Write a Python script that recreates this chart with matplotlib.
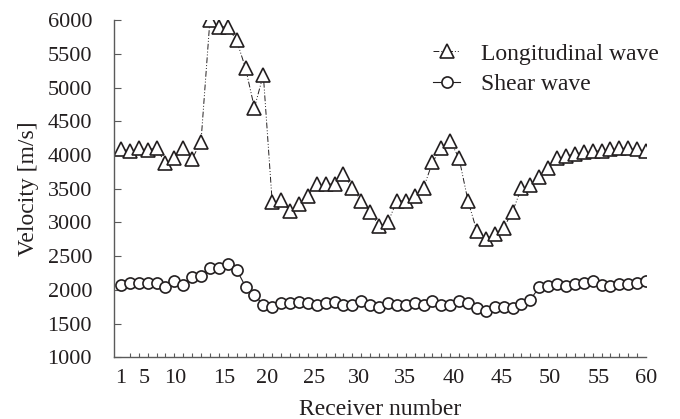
import numpy as np
import matplotlib
matplotlib.use("Agg")
import matplotlib.pyplot as plt
from matplotlib.ticker import MultipleLocator

plt.rcParams['font.family'] = ['Liberation Serif', 'DejaVu Serif']

receiver = np.arange(1, 61)

# longitudinal wave velocity (m/s)
longitudinal = [4090, 4060, 4100, 4080, 4100, 3880, 3950, 4110, 3940, 4200,
                6000, 5900, 5900, 5700, 5290, 4700, 5190, 3300, 3330, 3170,
                3270, 3390, 3570, 3570, 3570, 3720, 3510, 3320, 3150, 2950,
                3000, 3320, 3320, 3390, 3510, 3890, 4110, 4210, 3950, 3320,
                2870, 2750, 2830, 2920, 3160, 3510, 3560, 3680, 3810, 3950,
                3980, 4020, 4040, 4060, 4060, 4085, 4100, 4100, 4090, 4060]

# shear wave velocity (m/s)
shear = [2080, 2100, 2110, 2110, 2100, 2050, 2130, 2070, 2190, 2200,
         2320, 2330, 2380, 2300, 2050, 1925, 1780, 1740, 1810, 1800,
         1820, 1800, 1780, 1800, 1815, 1770, 1780, 1830, 1770, 1740,
         1800, 1770, 1770, 1800, 1770, 1840, 1770, 1770, 1830, 1800,
         1730, 1690, 1750, 1750, 1730, 1790, 1855, 2040, 2055, 2090,
         2055, 2090, 2100, 2140, 2075, 2065, 2090, 2090, 2110, 2130]

# the labels in the original sit where they were typed, not on a linear scale
xtick_labels = ['1', '5', '10', '15', '20', '25', '30', '35', '40', '45', '50', '55', '60']
xtick_pos = [1.0, 3.67, 7.13, 12.58, 17.47, 22.73, 27.8, 32.87, 38.44, 43.77, 49.22, 54.68, 60.0]

ink = '#231f20'
grey = '#5a5a5a'

fig = plt.figure(figsize=(6.8, 4.19), dpi=100)
ax = fig.add_axes([0.168, 0.147, 0.782, 0.805])

ax.plot(receiver, longitudinal, color=ink, lw=0.7, ls=(0, (6, 2, 1, 2, 1, 2)),
        marker='^', ms=10, mfc='white', mec=ink, mew=1.2,
        label='Longitudinal wave')
ax.plot(receiver, shear, color=ink, lw=0.8, ls='-',
        marker='o', ms=8, mfc='white', mec=ink, mew=1.2,
        label='Shear wave')

ax.set_xlim(0.25, 60)
ax.set_ylim(1000, 6000)
ax.set_xticks(xtick_pos, xtick_labels)
ax.xaxis.set_minor_locator(MultipleLocator(1))
ax.yaxis.set_major_locator(MultipleLocator(500))

for s in ['top', 'right']:
    ax.spines[s].set_visible(False)
for s in ['left', 'bottom']:
    ax.spines[s].set_color(grey)
    ax.spines[s].set_linewidth(1.0)

ax.tick_params(which='both', direction='in', colors=grey,
               labelcolor=ink, labelsize=16, width=0.8)
ax.tick_params(axis='x', which='major', length=0, pad=8)
ax.tick_params(axis='x', which='minor', length=3)
ax.tick_params(axis='y', which='major', length=5, pad=16)

ax.set_xlabel('Receiver number', fontsize=17, color=ink, labelpad=8)
ax.set_ylabel('Velocity [m/s]', fontsize=17, color=ink, labelpad=6)

ax.legend(loc='upper left', bbox_to_anchor=(433 / 680, 1 - 43 / 419),
          bbox_transform=fig.transFigure, frameon=False,
          fontsize=17, handlelength=1.15, handletextpad=0.9,
          labelspacing=0.4, borderpad=0, borderaxespad=0, labelcolor=ink)

fig.savefig('out.png', dpi=100)
